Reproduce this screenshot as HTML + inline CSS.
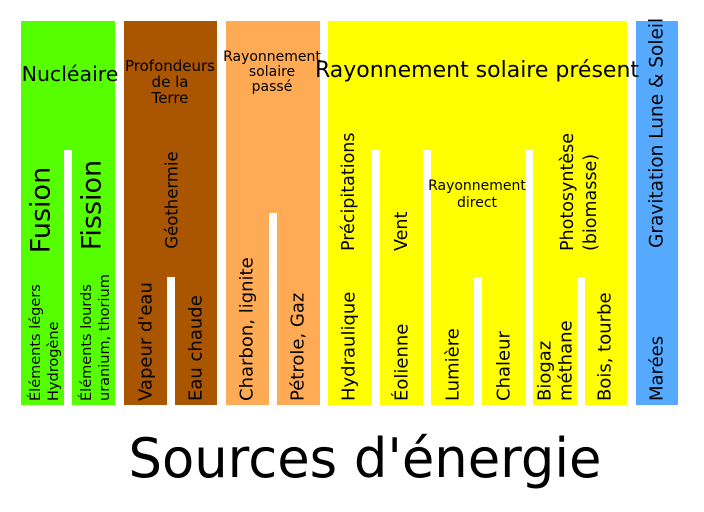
<!DOCTYPE html>
<html><head><meta charset="utf-8"><style>html,body{margin:0;padding:0;background:#fff}svg{display:block}text{font-family:"DejaVu Sans","Liberation Sans",sans-serif;fill:#000}</style></head>
<body>
<svg width="704" height="512" viewBox="0 0 704 512" xmlns="http://www.w3.org/2000/svg">
<rect x="21" y="21" width="94" height="384" fill="#55ff00"/>
<rect x="64" y="150" width="8" height="255" fill="#fff"/>
<rect x="124" y="21" width="93" height="384" fill="#aa5500"/>
<rect x="167" y="277" width="8" height="128" fill="#fff"/>
<rect x="226" y="21" width="94" height="384" fill="#ffaa55"/>
<rect x="269" y="213" width="8" height="192" fill="#fff"/>
<rect x="328" y="21" width="299" height="384" fill="#ffff00"/>
<rect x="372" y="150" width="8" height="255" fill="#fff"/>
<rect x="423" y="150" width="8" height="255" fill="#fff"/>
<rect x="474" y="277" width="8" height="128" fill="#fff"/>
<rect x="525" y="150" width="8" height="255" fill="#fff"/>
<rect x="577" y="277" width="8" height="128" fill="#fff"/>
<rect x="636" y="21" width="42" height="384" fill="#55aaff"/>

<g text-anchor="middle">
<text x="70" y="81" font-size="20.5">Nucléaire</text>
<text x="170" y="71" font-size="15">Profondeurs</text>
<text x="170" y="87" font-size="15">de la</text>
<text x="170" y="103" font-size="15">Terre</text>
<text x="272" y="61" font-size="14">Rayonnement</text>
<text x="272" y="76" font-size="14">solaire</text>
<text x="272" y="91" font-size="14">passé</text>
<text x="477" y="77" font-size="22">Rayonnement solaire présent</text>
<text x="477" y="190" font-size="14">Rayonnement</text>
<text x="477" y="207" font-size="14">direct</text>
<text x="365" y="477" font-size="54" textLength="473" lengthAdjust="spacingAndGlyphs">Sources d'énergie</text>
</g>

<g dominant-baseline="central">
<text transform="translate(41,210) rotate(-90)" font-size="27" text-anchor="middle">Fusion</text>
<text transform="translate(92,205) rotate(-90)" font-size="27" text-anchor="middle">Fission</text>
<text transform="translate(172,200) rotate(-90)" font-size="16.5" text-anchor="middle">Géothermie</text>
<g font-size="14.5" text-anchor="start">
<text transform="translate(36,401) rotate(-90)">Éléments légers</text>
<text transform="translate(54,401) rotate(-90)">Hydrogène</text>
<text transform="translate(87,401) rotate(-90)">Éléments lourds</text>
<text transform="translate(105,401) rotate(-90)">uranium, thorium</text>
</g>
<g font-size="18" text-anchor="start">
<text transform="translate(146,401) rotate(-90)">Vapeur d'eau</text>
<text transform="translate(196,401) rotate(-90)">Eau chaude</text>
<text transform="translate(247,401) rotate(-90)">Charbon, lignite</text>
<text transform="translate(298,401) rotate(-90)">Pétrole, Gaz</text>
<text transform="translate(349,401) rotate(-90)">Hydraulique</text>
<text transform="translate(402,401) rotate(-90)">Éolienne</text>
<text transform="translate(453,401) rotate(-90)">Lumière</text>
<text transform="translate(504,401) rotate(-90)">Chaleur</text>
<text transform="translate(545,401) rotate(-90)">Biogaz</text>
<text transform="translate(566,401) rotate(-90)">méthane</text>
<text transform="translate(605,401) rotate(-90)">Bois, tourbe</text>
<text transform="translate(657,401) rotate(-90)">Marées</text>
</g>
<g font-size="17.5" text-anchor="start">
<text transform="translate(349,251) rotate(-90)">Précipitations</text>
<text transform="translate(402,251) rotate(-90)">Vent</text>
<text transform="translate(568,251) rotate(-90)">Photosyntèse</text>
<text transform="translate(591,251) rotate(-90)">(biomasse)</text>
<text transform="translate(657,248) rotate(-90)" font-size="18.5">Gravitation Lune &amp; Soleil</text>
</g>
</g>
</svg>
</body></html>
